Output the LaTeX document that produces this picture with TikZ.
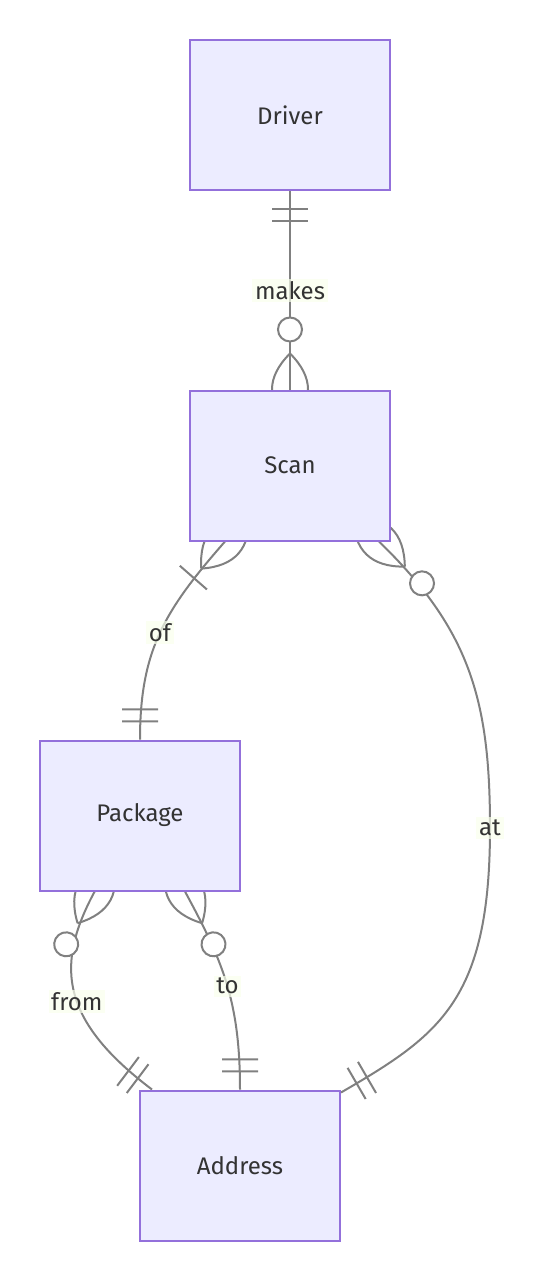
\documentclass[tikz,border=0pt]{standalone}
\usepackage{fontspec}
\setmainfont{Fira Sans}
\usetikzlibrary{backgrounds,decorations.markings}
\definecolor{entfill}{HTML}{ECECFF}
\definecolor{entline}{HTML}{9370DB}
\definecolor{relline}{HTML}{808080}
\definecolor{lblfill}{HTML}{F9FFEC}
\definecolor{ink}{HTML}{333333}

\begin{document}
\begin{tikzpicture}[x=0.75pt, y=-0.75pt, font=\fontsize{18}{22}\selectfont,
    entity/.style={draw=entline, fill=entfill, line width=1.5pt, minimum width=150pt, minimum height=112.5pt, text=ink},
    rel/.style={draw=relline, line width=1.5pt},
    lbl/.style={fill=lblfill, fill opacity=0.7, text opacity=1, text=ink, inner sep=2pt},
    onestart/.style={postaction={decorate, decoration={markings, mark=at position 0 with {
        \draw[rel] (13.5pt,-13.5pt)--(13.5pt,13.5pt) (22.5pt,-13.5pt)--(22.5pt,13.5pt);}}}},
    oneend/.style={postaction={decorate, decoration={markings, mark=at position 0.9999 with {
        \draw[rel] (-13.5pt,-13.5pt)--(-13.5pt,13.5pt) (-22.5pt,-13.5pt)--(-22.5pt,13.5pt);}}}},
    % crow's foot with a circle (zero or more)
    manystart/.style={postaction={decorate, decoration={markings, mark=at position 0 with {
        \draw[rel] (27pt,0) .. controls (9pt,-18pt) and (-9pt,-18pt) .. (-27pt,0) .. controls (-9pt,18pt) and (9pt,18pt) .. (27pt,0);
        \draw[rel, fill=white] (45pt,0) circle[radius=9pt];}}}},
    manyend/.style={postaction={decorate, decoration={markings, mark=at position 0.9999 with {
        \draw[rel] (-27pt,0) .. controls (-9pt,-18pt) and (9pt,-18pt) .. (27pt,0) .. controls (9pt,18pt) and (-9pt,18pt) .. (-27pt,0);
        \draw[rel, fill=white] (-45pt,0) circle[radius=9pt];}}}},
    % crow's foot with a bar (one or more)
    somestart/.style={postaction={decorate, decoration={markings, mark=at position 0 with {
        \draw[rel] (27pt,0) .. controls (9pt,-18pt) and (-9pt,-18pt) .. (-27pt,0) .. controls (-9pt,18pt) and (9pt,18pt) .. (27pt,0);
        \draw[rel] (36pt,-13.5pt)--(36pt,13.5pt);}}}}]
  \useasboundingbox (0,0) rectangle (544,1280);

  \node[entity] (driver) at (290,115.5) {Driver};
  \node[entity] (scan) at (290,465.5) {Scan};
  \node[entity] (package) at (140,815.5) {Package};
  \node[entity] (address) at (240,1165.5) {Address};

  \begin{scope}[on background layer]
    \draw[rel, onestart, manyend] (driver.south) -- node[lbl]{makes} (scan.north);
    \draw[rel, somestart, oneend] ([xshift=-48.75pt]scan.south) .. controls (165,610) and (140,650) .. node[lbl]{of} (package.north);
    \draw[rel, manystart, oneend] ([xshift=-9pt]scan.south east) .. controls (470,630) and (490,700) .. (490,828) node[lbl]{at}
      .. controls (490,1000) and (440,1035) .. ([yshift=-2.25pt]address.north east);
    \draw[rel, manystart, oneend] ([xshift=-34pt]package.south) .. controls (55,965) and (60,1020) .. node[lbl, pos=0.55]{from} ([xshift=9.75pt]address.north west);
    \draw[rel, manystart, oneend] ([xshift=33.75pt]package.south) .. controls (222,960) and (240,1000) .. node[lbl, pos=0.52]{to} (address.north);
  \end{scope}
\end{tikzpicture}
\end{document}
